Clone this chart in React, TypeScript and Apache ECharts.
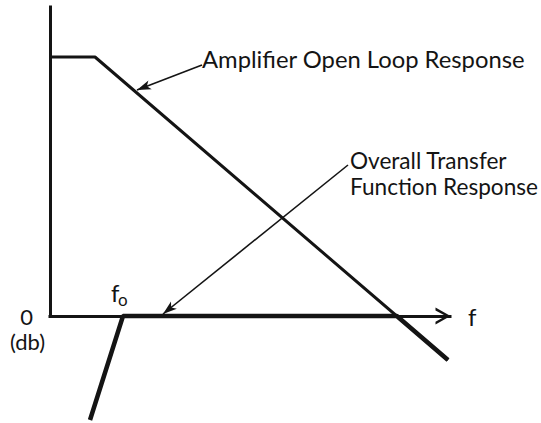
import React, { useEffect, useRef } from "react";
import * as echarts from "echarts";

// Schematic Bode plot (arbitrary units: frequency on x, dB on y)
const openLoopF = [0, 1.125, 9.95];
const openLoopDb = [6.475, 6.475, -1.1];
const overallF = [1.0, 1.825, 8.67, 9.95];
const overallDb = [-2.6, 0, 0, -1.1];
// annotation arrows: [fromF, fromDb, toF, toDb]
const openLoopArrow = [3.8, 6.275, 2.175, 5.65];
const overallArrow = [7.45, 3.775, 2.825, 0.05];
const xLimits = [0, 10];
const yLimits = [0, 7.725];
const labels = {
  openLoop: "Amplifier Open Loop Response",
  overall: "Overall Transfer\nFunction Response",
  xName: "f",
  zero: "0",
  unit: "(db)",
  f0: "f",
  f0sub: "o",
};

const FONT = "Lato";
const INK = "#141414";

export default function App() {
  const ref = useRef<HTMLDivElement>(null);
  useEffect(() => {
    if (!ref.current) return;
    const chart = echarts.init(ref.current, undefined, { renderer: "svg" });
    const pair = (xs: number[], ys: number[]) => xs.map((x, i) => [x, ys[i]]);
    const arrowLine = (a: number[]) => [{ coord: [a[0], a[1]] }, { coord: [a[2], a[3]] }];
    chart.setOption({
      animation: false,
      backgroundColor: "#ffffff",
      grid: { left: 50, right: 91, top: 7, bottom: 107, containLabel: false },
      xAxis: {
        type: "value",
        min: xLimits[0],
        max: xLimits[1],
        interval: 1,
        name: labels.xName,
        nameLocation: "end",
        nameGap: 18,
        nameTextStyle: { fontFamily: FONT, fontSize: 24, color: INK, padding: [0, 0, 14, 0] },
        axisLine: {
          show: true,
          lineStyle: { color: INK, width: 3, cap: "square" },
          symbol: ["none", "path://M0,16 L9,0 L18,16 L15,16 L9,5 L3,16 Z"],
          symbolSize: [18, 15],
          symbolOffset: [0, -7],
        },
        axisTick: { show: false },
        axisLabel: { show: false },
        splitLine: { show: false },
      },
      yAxis: {
        type: "value",
        min: yLimits[0],
        max: yLimits[1],
        interval: 1,
        axisLine: { show: true, lineStyle: { color: INK, width: 3, cap: "square" } },
        axisTick: { show: false },
        axisLabel: {
          show: true,
          margin: 17,
          fontFamily: FONT,
          fontSize: 22,
          color: INK,
          padding: [0, 0, 7, 0],
          formatter: (v: number) => (v === 0 ? labels.zero : ""),
        },
        splitLine: { show: false },
      },
      series: [
        {
          type: "line",
          name: "Open loop",
          data: pair(openLoopF, openLoopDb),
          symbol: "none",
          clip: false,
          lineStyle: { color: INK, width: 3 },
          z: 3,
          markLine: {
            silent: true,
            symbol: ["none", "arrow"],
            symbolSize: [7, 14],
            label: { show: false },
            lineStyle: { color: INK, width: 1.6, type: "solid" },
            data: [arrowLine(openLoopArrow), arrowLine(overallArrow)],
          },
        },
        {
          type: "line",
          name: "Overall",
          data: pair(overallF, overallDb),
          symbol: "none",
          clip: false,
          lineStyle: { color: INK, width: 4.5 },
          z: 4,
        },
      ],
      graphic: [
        { type: "text", left: 202, top: 47, style: { text: labels.openLoop, font: `23.8px ${FONT}`, fill: INK } },
        {
          type: "text",
          left: 350,
          top: 147,
          style: { text: labels.overall, font: `22.6px ${FONT}`, lineHeight: 26, fill: INK },
        },
        { type: "text", left: 111, top: 280, style: { text: labels.f0, font: `24px ${FONT}`, fill: INK } },
        { type: "text", left: 118, top: 291, style: { text: labels.f0sub, font: `17px ${FONT}`, fill: INK } },
        { type: "text", left: 10, top: 330, style: { text: labels.unit, font: `22px ${FONT}`, fill: INK } },
      ],
    });
    return () => chart.dispose();
  }, []);
  return (
    <div
      ref={ref}
      style={{ position: "fixed", left: 0, top: 0, width: 541, height: 423 }}
    />
  );
}
